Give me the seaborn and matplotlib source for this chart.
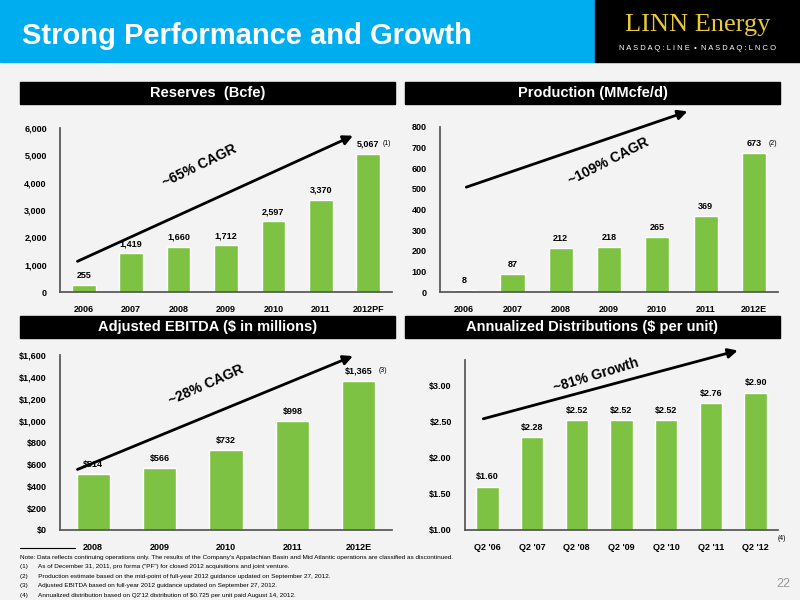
import matplotlib.pyplot as plt
import seaborn as sns
import pandas as pd

sns.set_theme(style="white")
plt.rcParams["font.family"] = ["Liberation Sans", "DejaVu Sans"]
plt.rcParams["text.color"] = "black"
plt.rcParams["xtick.color"] = "black"
plt.rcParams["ytick.color"] = "black"

GREEN = "#7DC242"

# Data
res_years = ["2006", "2007", "2008", "2009", "2010", "2011", "2012PF"]
res_vals = [255, 1419, 1660, 1712, 2597, 3370, 5067]
prod_years = ["2006", "2007", "2008", "2009", "2010", "2011", "2012E"]
prod_vals = [8, 87, 212, 218, 265, 369, 673]
ebitda_years = ["2008", "2009", "2010", "2011", "2012E"]
ebitda_vals = [514, 566, 732, 998, 1365]
dist_qtrs = ["Q2 '06", "Q2 '07", "Q2 '08", "Q2 '09", "Q2 '10", "Q2 '11", "Q2 '12"]
dist_vals = [1.60, 2.28, 2.52, 2.52, 2.52, 2.76, 2.90]

fig = plt.figure(figsize=(8, 6), dpi=100)
fig.patch.set_facecolor("#f3f3f3")

def px(x0, y0, x1, y1):
    return [x0 / 800, 1 - y1 / 600, (x1 - x0) / 800, (y1 - y0) / 600]

# header
fig.add_artist(plt.Rectangle((0, 1 - 62 / 600), 595 / 800, 62 / 600, transform=fig.transFigure, color="#00AEEF"))
fig.add_artist(plt.Rectangle((595 / 800, 1 - 62 / 600), 205 / 800, 62 / 600, transform=fig.transFigure, color="black"))
fig.text(22 / 800, 1 - 36 / 600, "Strong Performance and Growth", color="white", fontsize=21, fontweight="bold", va="center")
fig.text(698 / 800, 1 - 25 / 600, "LINN Energy", color="#E8C93A", fontsize=19, family=["Liberation Serif"], ha="center", va="center")
fig.text(698 / 800, 1 - 48 / 600, "N A S D A Q : L I N E  \u2022  N A S D A Q : L N C O", color="white", fontsize=5.5, ha="center", va="center")


def panel(hdr, title, axbox, cats, vals, ylim, yticks, fmt, tickfmt, arrow, atext, textpos, rot, note):
    x0, y0, x1 = hdr
    fig.add_artist(plt.Rectangle((x0 / 800, 1 - (y0 + 22) / 600), (x1 - x0) / 800, 22 / 600,
                                 transform=fig.transFigure, color="black"))
    fig.text((x0 + x1) / 1600, 1 - (y0 + 11) / 600, title, color="white", fontsize=10.5,
             fontweight="bold", ha="center", va="center")
    ax = fig.add_axes(px(*axbox))
    ax.set_facecolor("none")
    df = pd.DataFrame({"c": cats, "v": vals})
    sns.barplot(data=df, x="c", y="v", color=GREEN, width=0.5, saturation=1, ax=ax)
    ax.set_ylim(*ylim)
    ax.set_yticks(yticks)
    ax.set_yticklabels([tickfmt(t) for t in yticks])
    ax.set_xlabel("")
    ax.set_ylabel("")
    ax.tick_params(labelsize=6.5)
    for lbl in ax.get_xticklabels() + ax.get_yticklabels():
        lbl.set_fontweight("bold")
    for s in ["top", "right"]:
        ax.spines[s].set_visible(False)
    for s in ["left", "bottom"]:
        ax.spines[s].set_color("#555555")
    span = ylim[1] - ylim[0]
    for i, v in enumerate(vals):
        ax.text(i, v + span * 0.03, fmt(v), ha="center", va="bottom", fontsize=6.5, fontweight="bold")
    ax.text(len(vals) - 1 + 0.3, vals[-1] + span * 0.04, note, fontsize=5, va="bottom")
    ax.annotate("", xy=arrow[1], xytext=arrow[0], xycoords="axes fraction", textcoords="axes fraction",
                arrowprops=dict(arrowstyle="-|>", color="black", lw=2, mutation_scale=14), annotation_clip=False)
    ax.text(textpos[0], textpos[1], atext, transform=ax.transAxes, rotation=rot, ha="center", va="center",
            fontsize=10, fontweight="bold", color="black")
    return ax


panel((20, 82, 395), "Reserves  (Bcfe)", (60, 128, 392, 292), res_years, res_vals, (0, 6000),
      range(0, 6001, 1000), lambda v: f"{v:,}", lambda t: f"{t:,}",
      ((0.045, 0.18), (0.89, 0.96)), "~65% CAGR", (0.42, 0.77), 26, "(1)")
panel((405, 82, 780), "Production (MMcfe/d)", (440, 127, 778, 292), prod_years, prod_vals, (0, 800),
      range(0, 801, 100), lambda v: f"{v}", lambda t: f"{t}",
      ((0.07, 0.63), (0.74, 1.10)), "~109% CAGR", (0.50, 0.79), 27, "(2)")
panel((20, 316, 395), "Adjusted EBITDA ($ in millions)", (60, 355, 392, 530), ebitda_years, ebitda_vals, (0, 1600),
      range(0, 1601, 200), lambda v: f"${v:,}", lambda t: f"${t:,}",
      ((0.045, 0.34), (0.89, 1.0)), "~28% CAGR", (0.44, 0.83), 24, "(3)")
ax4 = panel((405, 316, 780), "Annualized Distributions ($ per unit)", (465, 360, 778, 530), dist_qtrs, dist_vals,
            (1.0, 3.35), [1.0, 1.5, 2.0, 2.5, 3.0], lambda v: f"${v:.2f}", lambda t: f"${t:.2f}",
            ((0.05, 0.65), (0.88, 1.06)), "~81% Growth", (0.42, 0.91), 17, "")
ax4.text(1.0, -0.03, "(4)", transform=ax4.transAxes, fontsize=5, va="top")

# footnotes
fig.add_artist(plt.Line2D([20 / 800, 75 / 800], [1 - 548 / 600] * 2, transform=fig.transFigure, color="black", lw=0.8))
notes = [
    "Note: Data reflects continuing operations only. The results of the Company's Appalachian Basin and Mid Atlantic operations are classified as discontinued.",
    "(1)      As of December 31, 2011, pro forma (\"PF\") for closed 2012 acquisitions and joint venture.",
    "(2)      Production estimate based on the mid-point of full-year 2012 guidance updated on September 27, 2012.",
    "(3)      Adjusted EBITDA based on full-year 2012 guidance updated on September 27, 2012.",
    "(4)      Annualized distribution based on Q2'12 distribution of $0.725 per unit paid August 14, 2012.",
]
for i, n in enumerate(notes):
    fig.text(20 / 800, 1 - (557 + i * 9.6) / 600, n, fontsize=4.6, va="center")
fig.text(790 / 800, 1 - 584 / 600, "22", fontsize=9, color="#999999", ha="right", va="center")

fig.savefig("out.png", dpi=100, facecolor=fig.get_facecolor())
